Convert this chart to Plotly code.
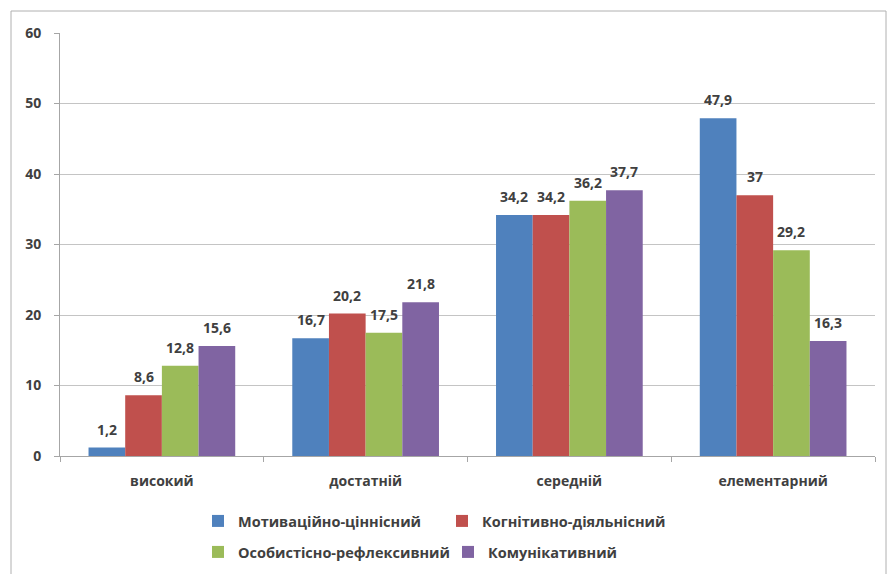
import plotly.graph_objects as go

# Levels and the four components
categories = ["високий", "достатній", "середній", "елементарний"]
series_names = [
    "Мотиваційно-ціннісний",
    "Когнітивно-діяльнісний",
    "Особистісно-рефлексивний",
    "Комунікативний",
]
motivational = [1.2, 16.7, 34.2, 47.9]
cognitive = [8.6, 20.2, 34.2, 37.0]
reflexive = [12.8, 17.5, 36.2, 29.2]
communicative = [15.6, 21.8, 37.7, 16.3]
y_ticks = [0, 10, 20, 30, 40, 50, 60]

values = [motivational, cognitive, reflexive, communicative]
colors = ["#4F81BD", "#C0504D", "#9BBB59", "#8064A2"]
legend_ids = ["legend", "legend", "legend2", "legend2"]

text_color = "#404040"
base_font = dict(family="Open Sans, Liberation Sans, sans-serif", size=14,
                 color=text_color, weight=700)

W, H = 892, 574
ml, mr, mt, mb = 60, 17, 33, 118
pw, ph = W - ml - mr, H - mt - mb
bargap = 0.28
n_series = len(values)
bar_px = pw / len(categories) * (1 - bargap) / n_series


def fmt(v):
    return f"{v:g}".replace(".", ",")


def px_x(x):
    return (x - ml) / pw


def px_y(y):
    return (H - mb - y) / ph


fig = go.Figure()
annotations = []
for i, (name, vals, col, lg) in enumerate(zip(series_names, values, colors,
                                              legend_ids)):
    fig.add_trace(go.Bar(
        x=categories, y=vals, name=name,
        marker=dict(color=col, line=dict(width=0)),
        legend=lg,
    ))
    # value labels sitting a little above each bar
    offset = (i - (n_series - 1) / 2) * bar_px
    for cat, v in zip(categories, vals):
        annotations.append(dict(
            x=cat, y=v, xref="x", yref="y", text=fmt(v), showarrow=False,
            xanchor="center", yanchor="bottom", xshift=offset, yshift=7,
            font=dict(base_font, size=14),
        ))

legend_font = dict(base_font, size=14.5)

fig.update_layout(
    width=W, height=H,
    margin=dict(l=ml, r=mr, t=mt, b=mb, pad=0, autoexpand=False),
    paper_bgcolor="white", plot_bgcolor="white",
    font=base_font,
    barmode="group", bargap=bargap, bargroupgap=0,
    showlegend=True,
    legend=dict(orientation="h", x=px_x(198), y=px_y(521), yanchor="middle",
                xanchor="left", font=legend_font, entrywidth=199,
                itemwidth=30, bgcolor="rgba(0,0,0,0)"),
    legend2=dict(orientation="h", x=px_x(198), y=px_y(552), yanchor="middle",
                 xanchor="left", font=legend_font, entrywidth=205,
                 itemwidth=30, bgcolor="rgba(0,0,0,0)"),
    xaxis=dict(
        type="category", tickson="boundaries", ticks="outside", ticklen=5,
        tickcolor="#a6a6a6", showline=True, linecolor="#a6a6a6", linewidth=1,
        showgrid=False, tickfont=dict(base_font, size=14),
        ticklabelstandoff=12, automargin=False,
    ),
    yaxis=dict(
        range=[0, 60], tickvals=y_ticks, ticks="outside", ticklen=5,
        tickcolor="#a6a6a6", showline=True, linecolor="#a6a6a6", linewidth=1,
        showgrid=True, gridcolor="#c4c4c4", gridwidth=1.2, zeroline=False,
        tickfont=dict(base_font, size=14), ticklabelstandoff=10,
        automargin=False,
    ),
    annotations=annotations,
    shapes=[dict(
        type="rect", xref="paper", yref="paper",
        x0=px_x(11), x1=px_x(886), y0=px_y(590), y1=px_y(11),
        line=dict(color="#b0b0b0", width=1), fillcolor="rgba(0,0,0,0)",
        layer="below",
    )],
)

fig.write_html("out.html")
